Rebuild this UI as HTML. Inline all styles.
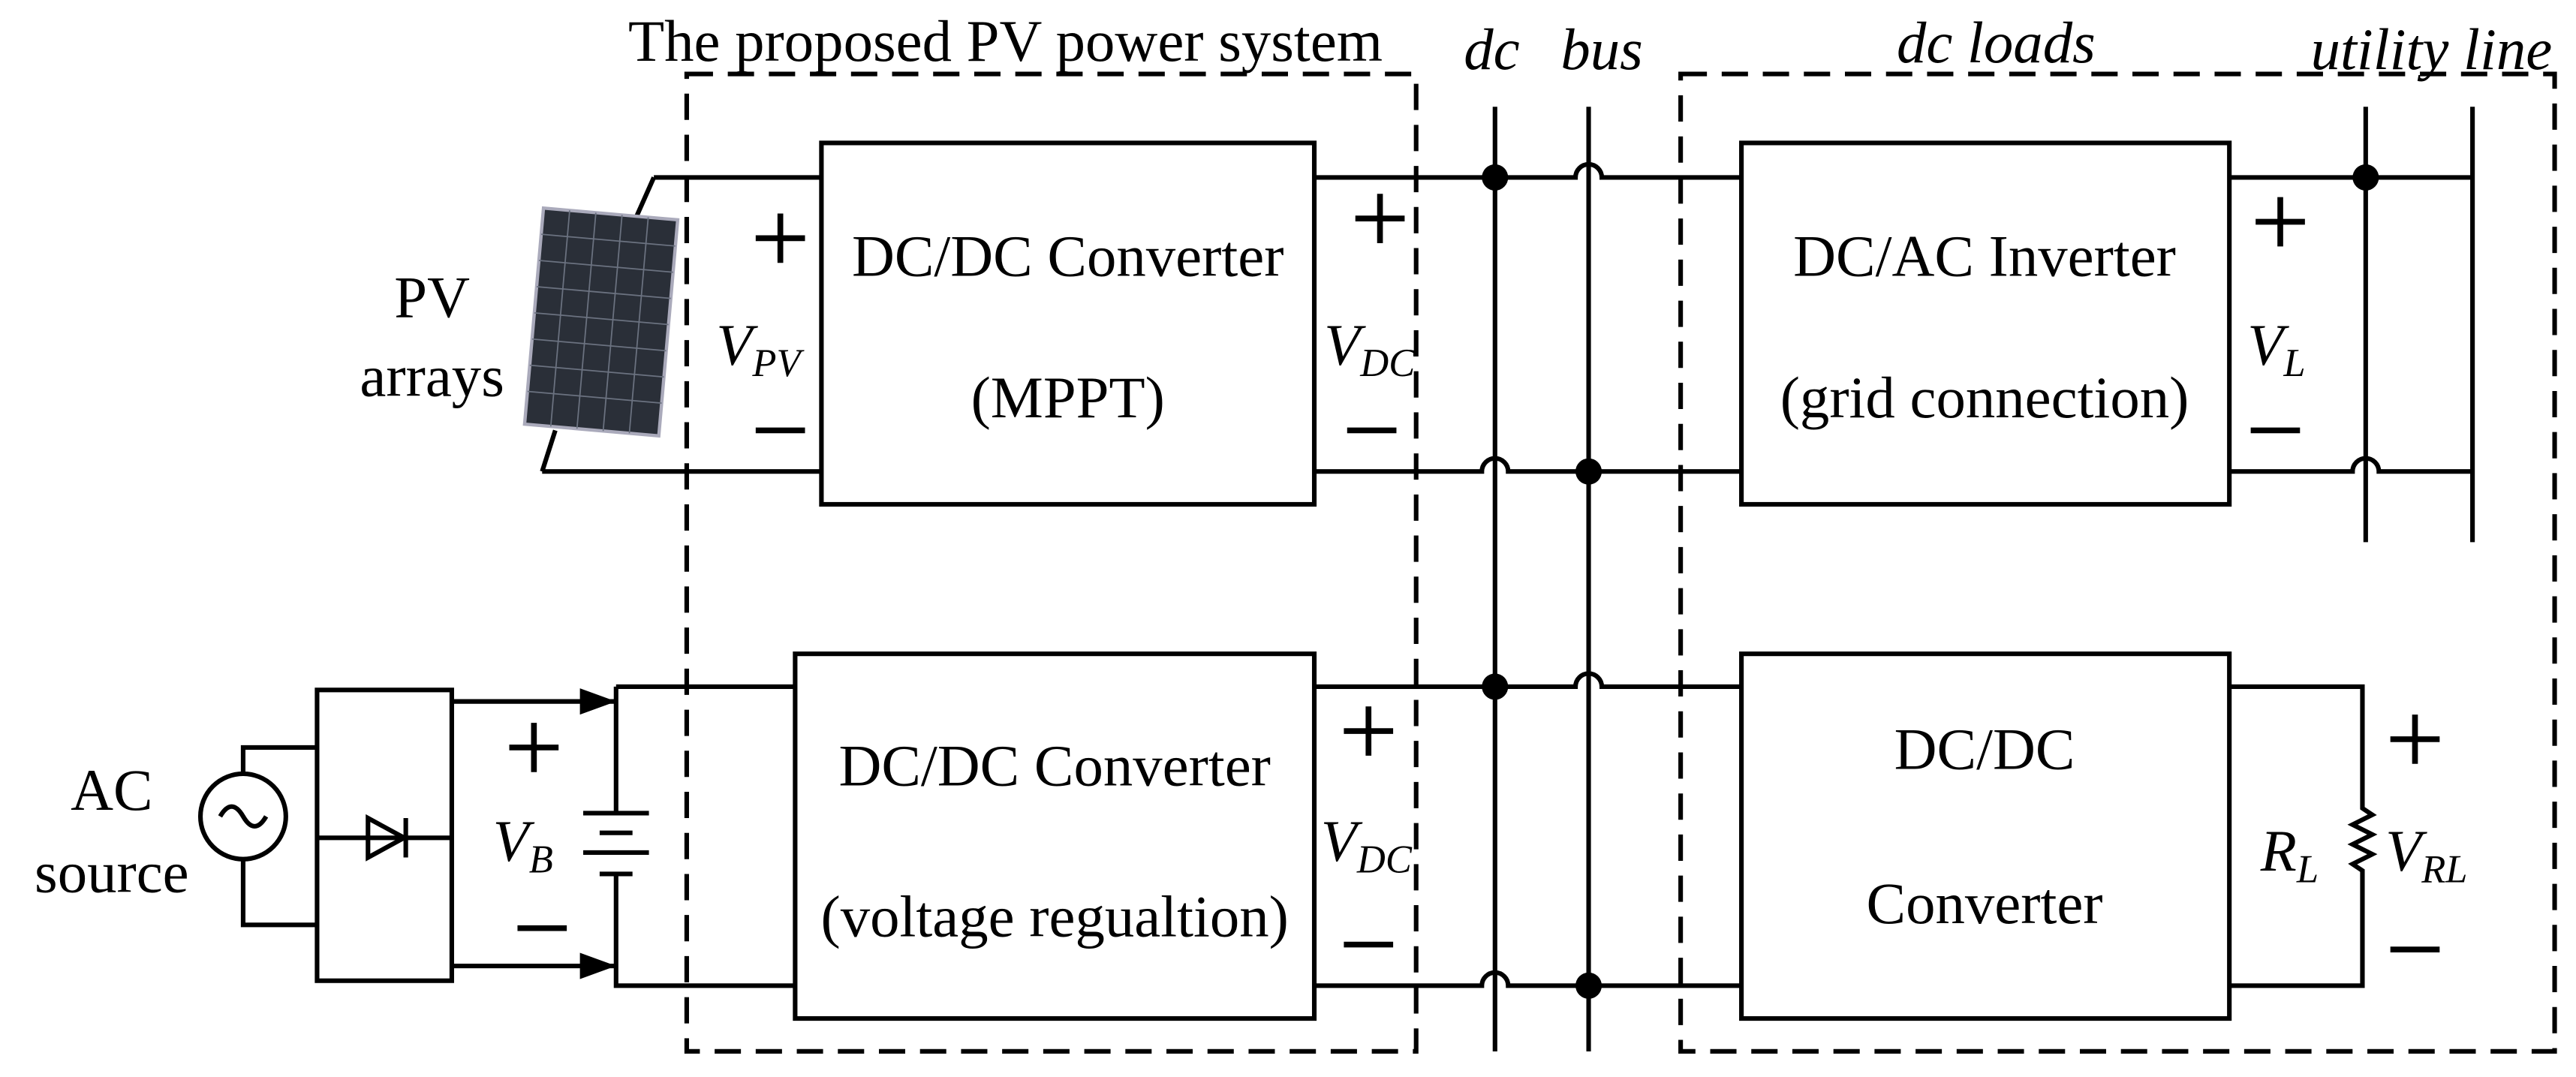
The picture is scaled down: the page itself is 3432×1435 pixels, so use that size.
<!DOCTYPE html>
<html><head><meta charset="utf-8"><style>
html,body{margin:0;padding:0;background:#fff;}
svg{display:block;}
text{font-family:"Liberation Serif",serif;fill:#000;}
</style></head><body>
<svg width="3432" height="1435" viewBox="0 0 1568 655.6" xmlns="http://www.w3.org/2000/svg">
<defs>
<marker id="ar" markerWidth="22" markerHeight="16" refX="22" refY="8" orient="auto" markerUnits="userSpaceOnUse"><path d="M0,0 L22,8 L0,16 z" fill="#000"/></marker>
</defs>
<g stroke="#000" stroke-width="2.8" fill="none">
<rect x="418" y="45" width="444" height="595" stroke-dasharray="16,9"/>
<rect x="1023" y="45" width="532" height="595" stroke-dasharray="16,9"/>
<rect x="500" y="87" width="300" height="220"/>
<rect x="1060" y="87" width="297" height="220"/>
<rect x="484" y="398" width="316" height="222"/>
<rect x="1060" y="398" width="297" height="222"/>
<line x1="910" y1="65" x2="910" y2="640"/>
<line x1="967" y1="65" x2="967" y2="640"/>
<line x1="398" y1="108" x2="500" y2="108"/>
<line x1="398" y1="108" x2="386" y2="135"/>
<line x1="330" y1="287" x2="500" y2="287"/>
<line x1="330" y1="287" x2="338" y2="262"/>
<path d="M800,108 H959 A8,8 0 0 1 975,108 H1060"/>
<path d="M800,287 H902 A8,8 0 0 1 918,287 H1060"/>
<line x1="1357" y1="108" x2="1505" y2="108"/>
<path d="M1357,287 H1432 A8,8 0 0 1 1448,287 H1505"/>
<line x1="1440" y1="65" x2="1440" y2="330"/>
<line x1="1505" y1="65" x2="1505" y2="330"/>
<path d="M800,418 H959 A8,8 0 0 1 975,418 H1060"/>
<path d="M800,600 H902 A8,8 0 0 1 918,600 H1060"/>
<path d="M1357,418 H1438 V492 l6,4 l-12,6 l12,6 l-12,6 l12,6 l-12,6 l6,4 V600 H1357"/>
<circle cx="148" cy="497" r="26"/>
<path d="M134,497 q7,-12 14,0 q7,12 14,0"/>
<path d="M148,471 V455 H193"/>
<path d="M148,523 V563 H193"/>
<rect x="193" y="420" width="82" height="177"/>
<line x1="193" y1="510" x2="275" y2="510"/>
<line x1="275" y1="427" x2="375" y2="427" marker-end="url(#ar)"/>
<line x1="275" y1="588" x2="375" y2="588" marker-end="url(#ar)"/>
<path d="M375,418 H484"/>
<path d="M375,418 V495"/>
<path d="M375,532 V600 H484"/>
<line x1="355" y1="495" x2="395" y2="495"/>
<line x1="365" y1="507" x2="385" y2="507"/>
<line x1="355" y1="519" x2="395" y2="519"/>
<line x1="365" y1="532" x2="385" y2="532"/>
</g>
<path d="M224,498 L224,522 L246,510 z" fill="none" stroke="#000" stroke-width="2.8"/>
<line x1="247" y1="498" x2="247" y2="522" stroke="#000" stroke-width="2.8"/>
<g fill="#000">
<circle cx="910" cy="108" r="8"/><circle cx="967" cy="287" r="8"/>
<circle cx="910" cy="418" r="8"/><circle cx="967" cy="600" r="8"/>
<circle cx="1440" cy="108" r="8"/>
</g>
<g transform="rotate(5 366 195)">
<rect x="325" y="130" width="82" height="132" fill="#2a2f38" stroke="#aab" stroke-width="2"/>
<g stroke="#6b7280" stroke-width="0.8">
<line x1="341" y1="130" x2="341" y2="262"/><line x1="357" y1="130" x2="357" y2="262"/><line x1="373" y1="130" x2="373" y2="262"/><line x1="389" y1="130" x2="389" y2="262"/>
<line x1="325" y1="146" x2="407" y2="146"/><line x1="325" y1="162" x2="407" y2="162"/><line x1="325" y1="178" x2="407" y2="178"/><line x1="325" y1="194" x2="407" y2="194"/><line x1="325" y1="210" x2="407" y2="210"/><line x1="325" y1="226" x2="407" y2="226"/><line x1="325" y1="242" x2="407" y2="242"/>
</g></g>
<!-- plus/minus as strokes -->
<g stroke="#000" stroke-width="3.5">
<path d="M460,145 h30 M475,130 v30"/>
<path d="M825,133 h30 M840,118 v30"/>
<path d="M1373,135 h30 M1388,120 v30"/>
<path d="M310,455 h30 M325,440 v30"/>
<path d="M818,445 h30 M833,430 v30"/>
<path d="M1455,450 h30 M1470,435 v30"/>
<path d="M460,262 h30"/>
<path d="M820,262 h30"/>
<path d="M1370,262 h30"/>
<path d="M315,565 h30"/>
<path d="M818,575 h30"/>
<path d="M1455,578 h30"/>
</g>
<g font-size="36">
<text x="612" y="37" text-anchor="middle">The proposed PV power system</text>
<text x="908" y="42" text-anchor="middle" font-style="italic">dc</text>
<text x="975" y="42" text-anchor="middle" font-style="italic">bus</text>
<text x="1215" y="38" text-anchor="middle" font-style="italic">dc loads</text>
<text x="1480" y="42" text-anchor="middle" font-style="italic">utility line</text>
<text x="650" y="168" text-anchor="middle">DC/DC Converter</text>
<text x="650" y="254" text-anchor="middle">(MPPT)</text>
<text x="1208" y="168" text-anchor="middle">DC/AC Inverter</text>
<text x="1208" y="254" text-anchor="middle">(grid connection)</text>
<text x="642" y="478" text-anchor="middle">DC/DC Converter</text>
<text x="642" y="570" text-anchor="middle">(voltage regualtion)</text>
<text x="1208" y="468" text-anchor="middle">DC/DC</text>
<text x="1208" y="562" text-anchor="middle">Converter</text>
<text x="263" y="193" text-anchor="middle">PV</text>
<text x="263" y="241" text-anchor="middle">arrays</text>
<text x="68" y="493" text-anchor="middle">AC</text>
<text x="68" y="543" text-anchor="middle">source</text>
</g>
<g font-size="36" font-style="italic">
<text x="436" y="222">V<tspan font-size="24" dy="7">PV</tspan></text>
<text x="806" y="222">V<tspan font-size="24" dy="7">DC</tspan></text>
<text x="1368" y="222">V<tspan font-size="24" dy="7">L</tspan></text>
<text x="300" y="524">V<tspan font-size="24" dy="7">B</tspan></text>
<text x="804" y="524">V<tspan font-size="24" dy="7">DC</tspan></text>
<text x="1376" y="530">R<tspan font-size="24" dy="7">L</tspan></text>
<text x="1452" y="530">V<tspan font-size="24" dy="7">RL</tspan></text>
</g>
</svg>
</body></html>
